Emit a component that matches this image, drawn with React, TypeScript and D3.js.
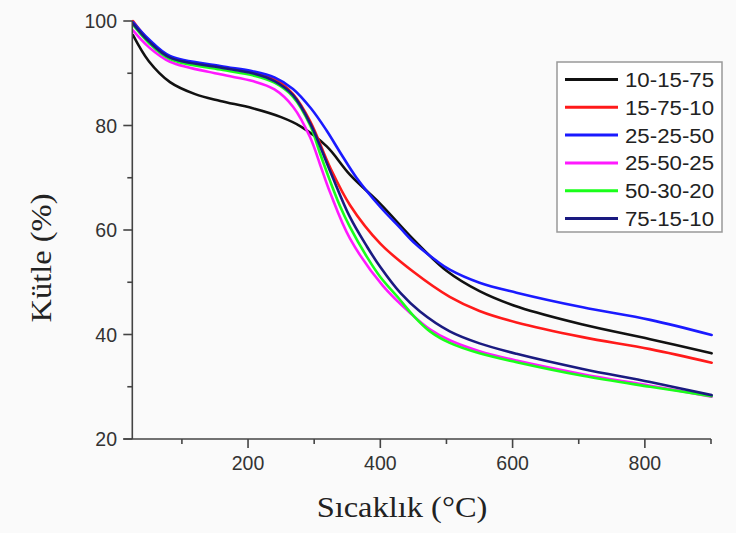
import React from "react";
import * as d3 from "d3";

type Pt = [number, number];

const seriesNames = ["10-15-75", "15-75-10", "25-25-50", "25-50-25", "50-30-20", "75-15-10"];
const seriesColors = ["#111111", "#ff1a1a", "#1a1aff", "#ff1aff", "#1aff1a", "#1a1a80"];

const s10_15_75: Pt[] = [[26, 97.3], [50, 92.3], [82, 88.3], [120, 86.0], [158, 84.7], [207, 83.3], [250, 81.6], [280, 79.8], [319, 76.0], [354, 70.6], [400, 65.0], [450, 58.2], [500, 52.2], [550, 48.3], [610, 45.2], [706, 41.9], [808, 39.1], [901, 36.4]];
const s15_75_10: Pt[] = [[26, 100], [50, 96.3], [82, 93.1], [158, 91.2], [207, 90.2], [240, 88.9], [268, 86.0], [294, 80.8], [324, 72.0], [354, 64.8], [400, 57.4], [450, 52.0], [505, 47.2], [550, 44.5], [606, 42.3], [706, 39.5], [808, 37.2], [901, 34.6]];
const s25_25_50: Pt[] = [[26, 99.8], [50, 96.5], [82, 93.3], [158, 91.4], [207, 90.4], [240, 89.2], [268, 87.0], [295, 83.3], [319, 79.0], [340, 74.7], [364, 70.0], [400, 64.4], [430, 60.4], [450, 57.7], [485, 54.1], [505, 52.4], [550, 49.9], [606, 48.0], [706, 45.2], [808, 42.8], [901, 39.9]];
const s25_50_25: Pt[] = [[26, 98.2], [50, 95.0], [82, 92.2], [158, 89.8], [207, 88.5], [240, 86.9], [268, 83.6], [294, 77.7], [309, 72.5], [324, 67.2], [354, 58.4], [404, 49.3], [448, 43.8], [475, 41.0], [505, 38.9], [550, 36.8], [606, 35.0], [706, 32.4], [808, 30.2], [901, 28.1]];
const s50_30_20: Pt[] = [[26, 99.3], [50, 95.8], [82, 92.7], [158, 90.7], [207, 89.6], [240, 88.2], [268, 85.5], [294, 80.0], [309, 74.6], [324, 69.4], [339, 64.6], [354, 60.6], [380, 54.8], [400, 51.0], [430, 46.6], [450, 43.6], [475, 40.6], [505, 38.4], [550, 36.4], [606, 34.7], [706, 32.1], [808, 30.0], [901, 28.2]];
const s75_15_10: Pt[] = [[26, 99.5], [50, 96.1], [82, 93.0], [158, 91.1], [207, 90.0], [240, 88.5], [268, 85.8], [294, 80.4], [324, 71.3], [354, 62.5], [380, 56.8], [400, 52.9], [430, 48.0], [460, 44.4], [505, 40.6], [550, 38.3], [606, 36.3], [706, 33.4], [808, 30.9], [901, 28.4]];

const seriesData: Pt[][] = [s10_15_75, s15_75_10, s25_25_50, s25_50_25, s50_30_20, s75_15_10];
const drawOrder = [0, 1, 2, 3, 4, 5];

const xMajorTicks = [200, 400, 600, 800];
const xMinorTicks = [100, 300, 500, 700, 900];
const yMajorTicks = [20, 40, 60, 80, 100];
const yMinorTicks = [30, 50, 70, 90];

const xTitle = "Sıcaklık (°C)";
const yTitle = "Kütle (%)";

export default function App() {
  const x = d3.scaleLinear().domain([25, 900]).range([132.3, 711]);
  const y = d3.scaleLinear().domain([20, 100]).range([439, 21]);
  const line = d3
    .line<Pt>()
    .x((d) => x(d[0]))
    .y((d) => y(d[1]))
    .curve(d3.curveCatmullRom.alpha(0.5));

  const axisColor = "#444";
  const tickFont = "'Liberation Sans', Arial, sans-serif";
  const serif = "'Liberation Serif', 'Times New Roman', serif";

  const legendX = 557;
  const legendY = 62;
  const rowH = 27.8;
  const x0 = x.range()[0];
  const y0 = y.range()[0];

  return (
    <div style={{ position: "fixed", left: 0, top: 0 }}>
      <svg width={736} height={533} style={{ display: "block" }}>
        <rect x={0} y={0} width={736} height={533} fill="#fafafa" />
        <defs>
          <clipPath id="clip">
            <rect x={132} y={15} width={585} height={424} />
          </clipPath>
        </defs>
        <g clipPath="url(#clip)">
          {drawOrder.map((i) => (
            <path
              key={seriesNames[i]}
              d={line(seriesData[i]) || ""}
              fill="none"
              stroke={seriesColors[i]}
              strokeWidth={2.6}
              strokeLinejoin="round"
              strokeLinecap="round"
            />
          ))}
        </g>
        <line x1={x0} x2={x0} y1={y.range()[1]} y2={y0} stroke={axisColor} strokeWidth={1.6} />
        <line x1={x0 - 9} x2={x.range()[1]} y1={y0} y2={y0} stroke={axisColor} strokeWidth={1.6} />
        {yMajorTicks.map((t) => (
          <g key={"ym" + t}>
            <line x1={x0 - 9} x2={x0} y1={y(t)} y2={y(t)} stroke={axisColor} strokeWidth={1.6} />
            <text x={117} y={y(t) + 7} textAnchor="end" fontFamily={tickFont} fontSize={19.5} fill="#333">
              {t}
            </text>
          </g>
        ))}
        {yMinorTicks.map((t) => (
          <line key={"yn" + t} x1={x0 - 5} x2={x0} y1={y(t)} y2={y(t)} stroke={axisColor} strokeWidth={1.6} />
        ))}
        {xMajorTicks.map((t) => (
          <g key={"xm" + t}>
            <line x1={x(t)} x2={x(t)} y1={y0} y2={y0 + 9} stroke={axisColor} strokeWidth={1.6} />
            <text x={x(t)} y={470} textAnchor="middle" fontFamily={tickFont} fontSize={19.5} fill="#333">
              {t}
            </text>
          </g>
        ))}
        {xMinorTicks.map((t) => (
          <line key={"xn" + t} x1={x(t)} x2={x(t)} y1={y0} y2={y0 + 5} stroke={axisColor} strokeWidth={1.6} />
        ))}
        <text transform="translate(402,517) scale(1.12,1)" textAnchor="middle" fontFamily={serif} fontSize={29} fill="#222">
          {xTitle}
        </text>
        <text transform="translate(51,258) rotate(-90) scale(1.12,1)" textAnchor="middle" fontFamily={serif} fontSize={29} fill="#222">
          {yTitle}
        </text>
        <rect x={legendX} y={legendY} width={165} height={170} fill="#fff" stroke="#999" strokeWidth={1.5} />
        {seriesNames.map((n, i) => (
          <g key={"lg" + n}>
            <line
              x1={565}
              x2={618}
              y1={legendY + 17.5 + i * rowH}
              y2={legendY + 17.5 + i * rowH}
              stroke={seriesColors[i]}
              strokeWidth={3}
            />
            <text
              transform={`translate(625,${legendY + 17.5 + i * rowH + 7.5}) scale(1.06,1)`}
              fontFamily={tickFont}
              fontSize={21}
              fill="#222"
            >
              {n}
            </text>
          </g>
        ))}
      </svg>
    </div>
  );
}
